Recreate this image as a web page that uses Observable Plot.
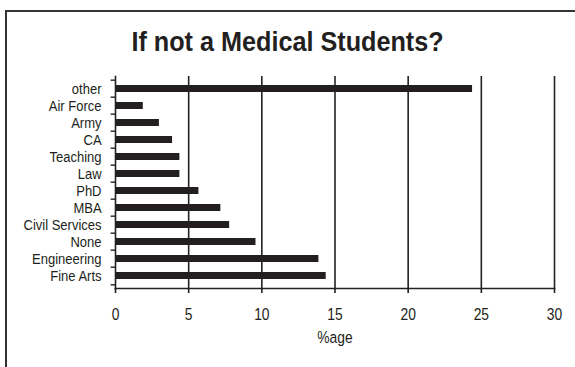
<!DOCTYPE html>
<html>
<head>
<meta charset="utf-8">
<script src="https://cdn.jsdelivr.net/npm/d3@7"></script>
<script src="https://cdn.jsdelivr.net/npm/@observablehq/plot@0.6"></script>
<style>
  html, body { margin: 0; padding: 0; background: #fff; }
  #wrap { position: relative; width: 575px; height: 367px; overflow: hidden; }
  #frame { position: absolute; left: 5px; top: 10px; width: 600px; height: 400px;
           border-left: 2px solid #333; border-top: 2px solid #333; box-sizing: border-box; }
  #title { position: absolute; left: 0; width: 575px; top: 26px; text-align: center;
           font-family: "Liberation Sans", Arial, sans-serif;
           font-weight: bold; font-size: 28px; color: #231f20; line-height: 32px;
           transform: scaleX(0.9); transform-origin: 288px 0; }
  svg { position: absolute; left: 0; top: 0; }
</style>
</head>
<body>
<div id="wrap">
  <div id="frame"></div>
  <div id="title">If not a Medical Students?</div>
</div>
<script>
const categories = ["other", "Air Force", "Army", "CA", "Teaching", "Law", "PhD", "MBA", "Civil Services", "None", "Engineering", "Fine Arts"];
const values = [24.4, 1.9, 3.0, 3.9, 4.4, 4.4, 5.7, 7.2, 7.8, 9.6, 13.9, 14.4];
const xTicks = [0, 5, 10, 15, 20, 25, 30];
const xLabel = "%age";

const data = categories.map((c, i) => ({category: c, value: values[i]}));
const ink = "#231f20";
const marginTop = 76, marginBottom = 79, height = 367;
const step = (height - marginTop - marginBottom) / categories.length;

const chart = Plot.plot({
  width: 575,
  height,
  marginLeft: 115,
  marginRight: 21,
  marginTop,
  marginBottom,
  style: {
    fontFamily: '"Liberation Sans", Arial, sans-serif',
    fontSize: "16px",
    color: ink,
    background: "transparent"
  },
  x: {domain: [0, 30], ticks: xTicks},
  y: {domain: categories, paddingInner: 0.6, paddingOuter: 0.3},
  marks: [
    Plot.gridX(xTicks.filter(d => d > 0), {stroke: "#222", strokeOpacity: 1, strokeWidth: 1.6}),
    Plot.barX(data, {x: "value", y: "category", fill: ink}),
    Plot.frame({anchor: "left", stroke: "#222", strokeWidth: 1.6}),
    Plot.frame({anchor: "bottom", stroke: "#222", strokeWidth: 1.6}),
    Plot.ruleY(categories, {y: d => d, x1: -0.3, x2: 0, dy: -step / 2, stroke: "#222", strokeWidth: 1.4, clip: false}),
    Plot.ruleY(categories.slice(-1), {y: d => d, x1: -0.3, x2: 0, dy: step / 2, stroke: "#222", strokeWidth: 1.4, clip: false}),
    Plot.axisY({tickSize: 0, tickPadding: 14, fontSize: 15.5, label: null}),
    Plot.axisX(xTicks, {tickSize: 5, tickPadding: 15, fontSize: 16.5, label: null, strokeWidth: 1.6}),
    Plot.text([xLabel], {frameAnchor: "bottom", dy: 54, fontSize: 16.5, fill: ink})
  ]
});
document.getElementById("wrap").appendChild(chart);

// Condense text horizontally (emulating a narrow typeface) about each text's anchor.
const sx = 0.84;
chart.querySelectorAll("text").forEach(t => {
  const bb = t.getBBox();
  const anchor = getComputedStyle(t).textAnchor;
  const ax = anchor === "end" ? bb.x + bb.width : anchor === "middle" ? bb.x + bb.width / 2 : bb.x;
  const prev = t.getAttribute("transform") || "";
  t.setAttribute("transform", `${prev} translate(${ax},0) scale(${sx},1) translate(${-ax},0)`.trim());
});
</script>
</body>
</html>
